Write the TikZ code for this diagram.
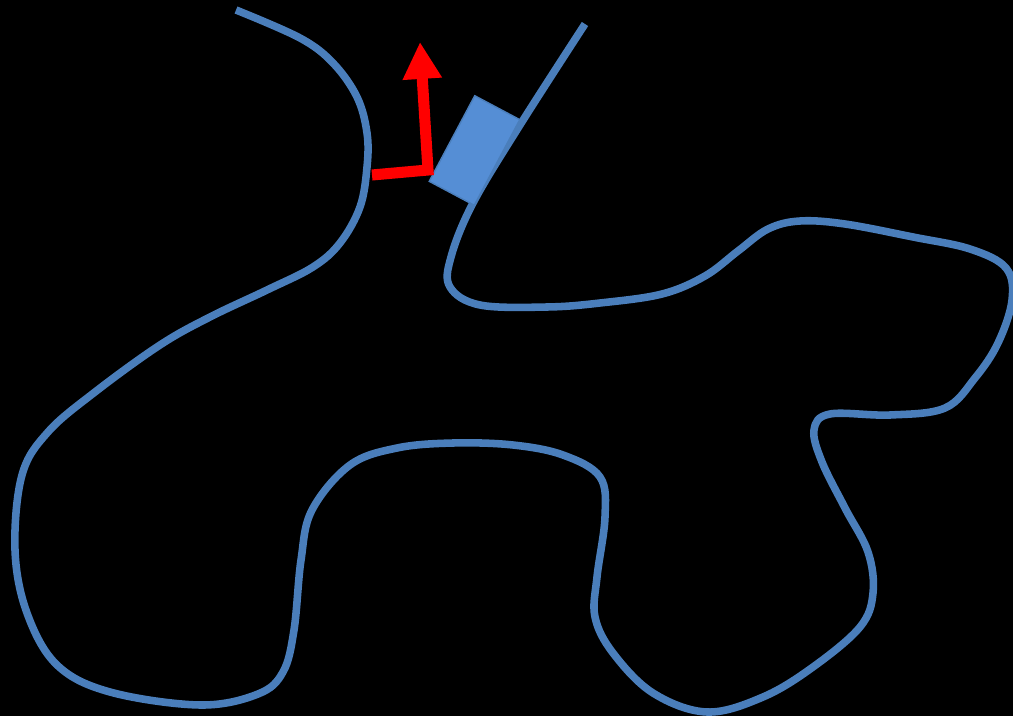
\documentclass[tikz,border=0pt]{standalone}
\usepackage{xcolor}
\usetikzlibrary{arrows.meta}
\definecolor{trackcolor}{RGB}{74,126,187}
\definecolor{cartcolor}{RGB}{85,142,213}

\tikzset{
    track/.style={draw=trackcolor,line width=4.3pt},
    cart/.style={draw=trackcolor,fill=cartcolor,line width=0.8pt,minimum width=1.02cm,minimum height=1.94cm,rotate=-28},
    frame/.style={draw=red,line width=6.3pt,-{Triangle[length=21pt,width=21pt]}}
}

\begin{document}
\begin{tikzpicture}[x=0.02cm,y=-0.02cm]
    \fill[black] (0,0) rectangle (1013,716);
    \useasboundingbox (0,0) rectangle (1013,716);
    \draw[track] plot[smooth,tension=0.6] coordinates {
        (236,10) (300,38) (333,63) (357,97) (367,133) (367,167) (360,207)
        (340,243) (313,267) (267,290) (210,317) (160,345) (95,392) (48,432)
        (22,475) (15,550) (27,613) (57,665) (110,692) (200,705) (258,694)
        (283,672) (294,630) (301,560) (312,510) (350,465) (397,448) (453,443)
        (513,445) (563,455) (600,477) (605,517) (597,577) (595,617) (613,653)
        (653,693) (707,712) (763,697) (813,667) (860,627) (873,593) (868,552)
        (845,508) (822,462) (814,430) (830,414) (890,415) (945,408) (975,378)
        (998,343) (1012,300) (1006,268) (970,249) (913,237) (845,224) (800,221)
        (768,229) (738,251) (705,276) (662,294) (600,303) (547,307) (480,305)
        (450,287) (451,257) (473,203) (520,125) (585,24)};
    \node[cart] (vehicle) at (474.5,150.5) {};
    \coordinate (origin) at (428,170);
    \coordinate (xend) at (372,175);
    \coordinate (yend) at (420,42);
    \draw[frame] (xend) -- (origin) -- (yend);
\end{tikzpicture}
\end{document}
